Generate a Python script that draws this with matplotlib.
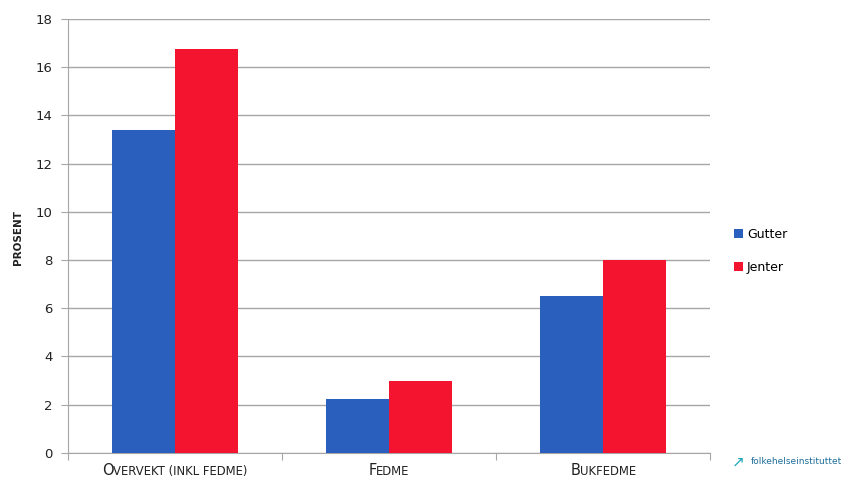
import numpy as np
import matplotlib
matplotlib.use('Agg')
import matplotlib.pyplot as plt
from matplotlib.offsetbox import TextArea, HPacker, AnnotationBbox

categories = [('O', 'VERVEKT (INKL FEDME)'), ('F', 'EDME'), ('B', 'UKFEDME')]
gutter = [13.4, 2.25, 6.5]
jenter = [16.75, 3.0, 8.0]
series_names = ['Gutter', 'Jenter']

BLUE = '#2A5FBE'
RED = '#F5142F'
GRID = '#A6A6A6'

fig = plt.figure(figsize=(8.54, 4.95), dpi=100)
ax = fig.add_axes([0.0796, 0.085, 0.752, 0.877])

x = np.arange(len(categories))
w = 0.295
ax.bar(x - w/2, gutter, w, color=BLUE, label=series_names[0], zorder=3)
ax.bar(x + w/2, jenter, w, color=RED, label=series_names[1], zorder=3)

ax.set_xlim(-0.5, len(categories) - 0.5)
ax.set_ylim(0, 18)
ax.set_yticks(np.arange(0, 19, 2))
ax.yaxis.grid(True, color=GRID, lw=1.0, zorder=0)
ax.set_axisbelow(True)

for s in ['top', 'right']:
    ax.spines[s].set_visible(False)
ax.spines['left'].set_color(GRID)
ax.spines['bottom'].set_color(GRID)
ax.tick_params(axis='y', length=5, color=GRID, labelsize=9.5, pad=6, labelcolor='#222222')
ax.set_xticks(np.arange(0, len(categories) + 1) - 0.5)
ax.set_xticklabels([])
ax.tick_params(axis='x', length=5, color=GRID)

# small-caps category labels
for i, (big, small) in enumerate(categories):
    box = HPacker(children=[TextArea(big, textprops=dict(fontsize=10.5, color='#222222')),
                            TextArea(small, textprops=dict(fontsize=8.4, color='#222222'))],
                  align='baseline', pad=0, sep=-0.5)
    ab = AnnotationBbox(box, (i, 0), xybox=(0, -13), xycoords=('data', 'axes fraction'),
                        boxcoords='offset points', frameon=False, box_alignment=(0.5, 0.5))
    ax.add_artist(ab)

fig.text(0.021, 0.52, 'PROSENT', rotation=90, fontsize=7.5, fontweight='bold',
         ha='center', va='center', color='#222222')

ax.legend(loc='center left', bbox_to_anchor=(1.02, 0.465), frameon=False,
          fontsize=9, handlelength=0.7, handleheight=0.7, handletextpad=0.3,
          labelspacing=1.6)

fig.text(0.879, 0.067, 'folkehelseinstituttet', fontsize=6.5, color='#1E6E9A',
         ha='left', va='center')
fig.text(0.864, 0.067, '\u2197', fontsize=11, color='#1AA6B7', ha='center', va='center')

plt.savefig('out.png', dpi=100)
